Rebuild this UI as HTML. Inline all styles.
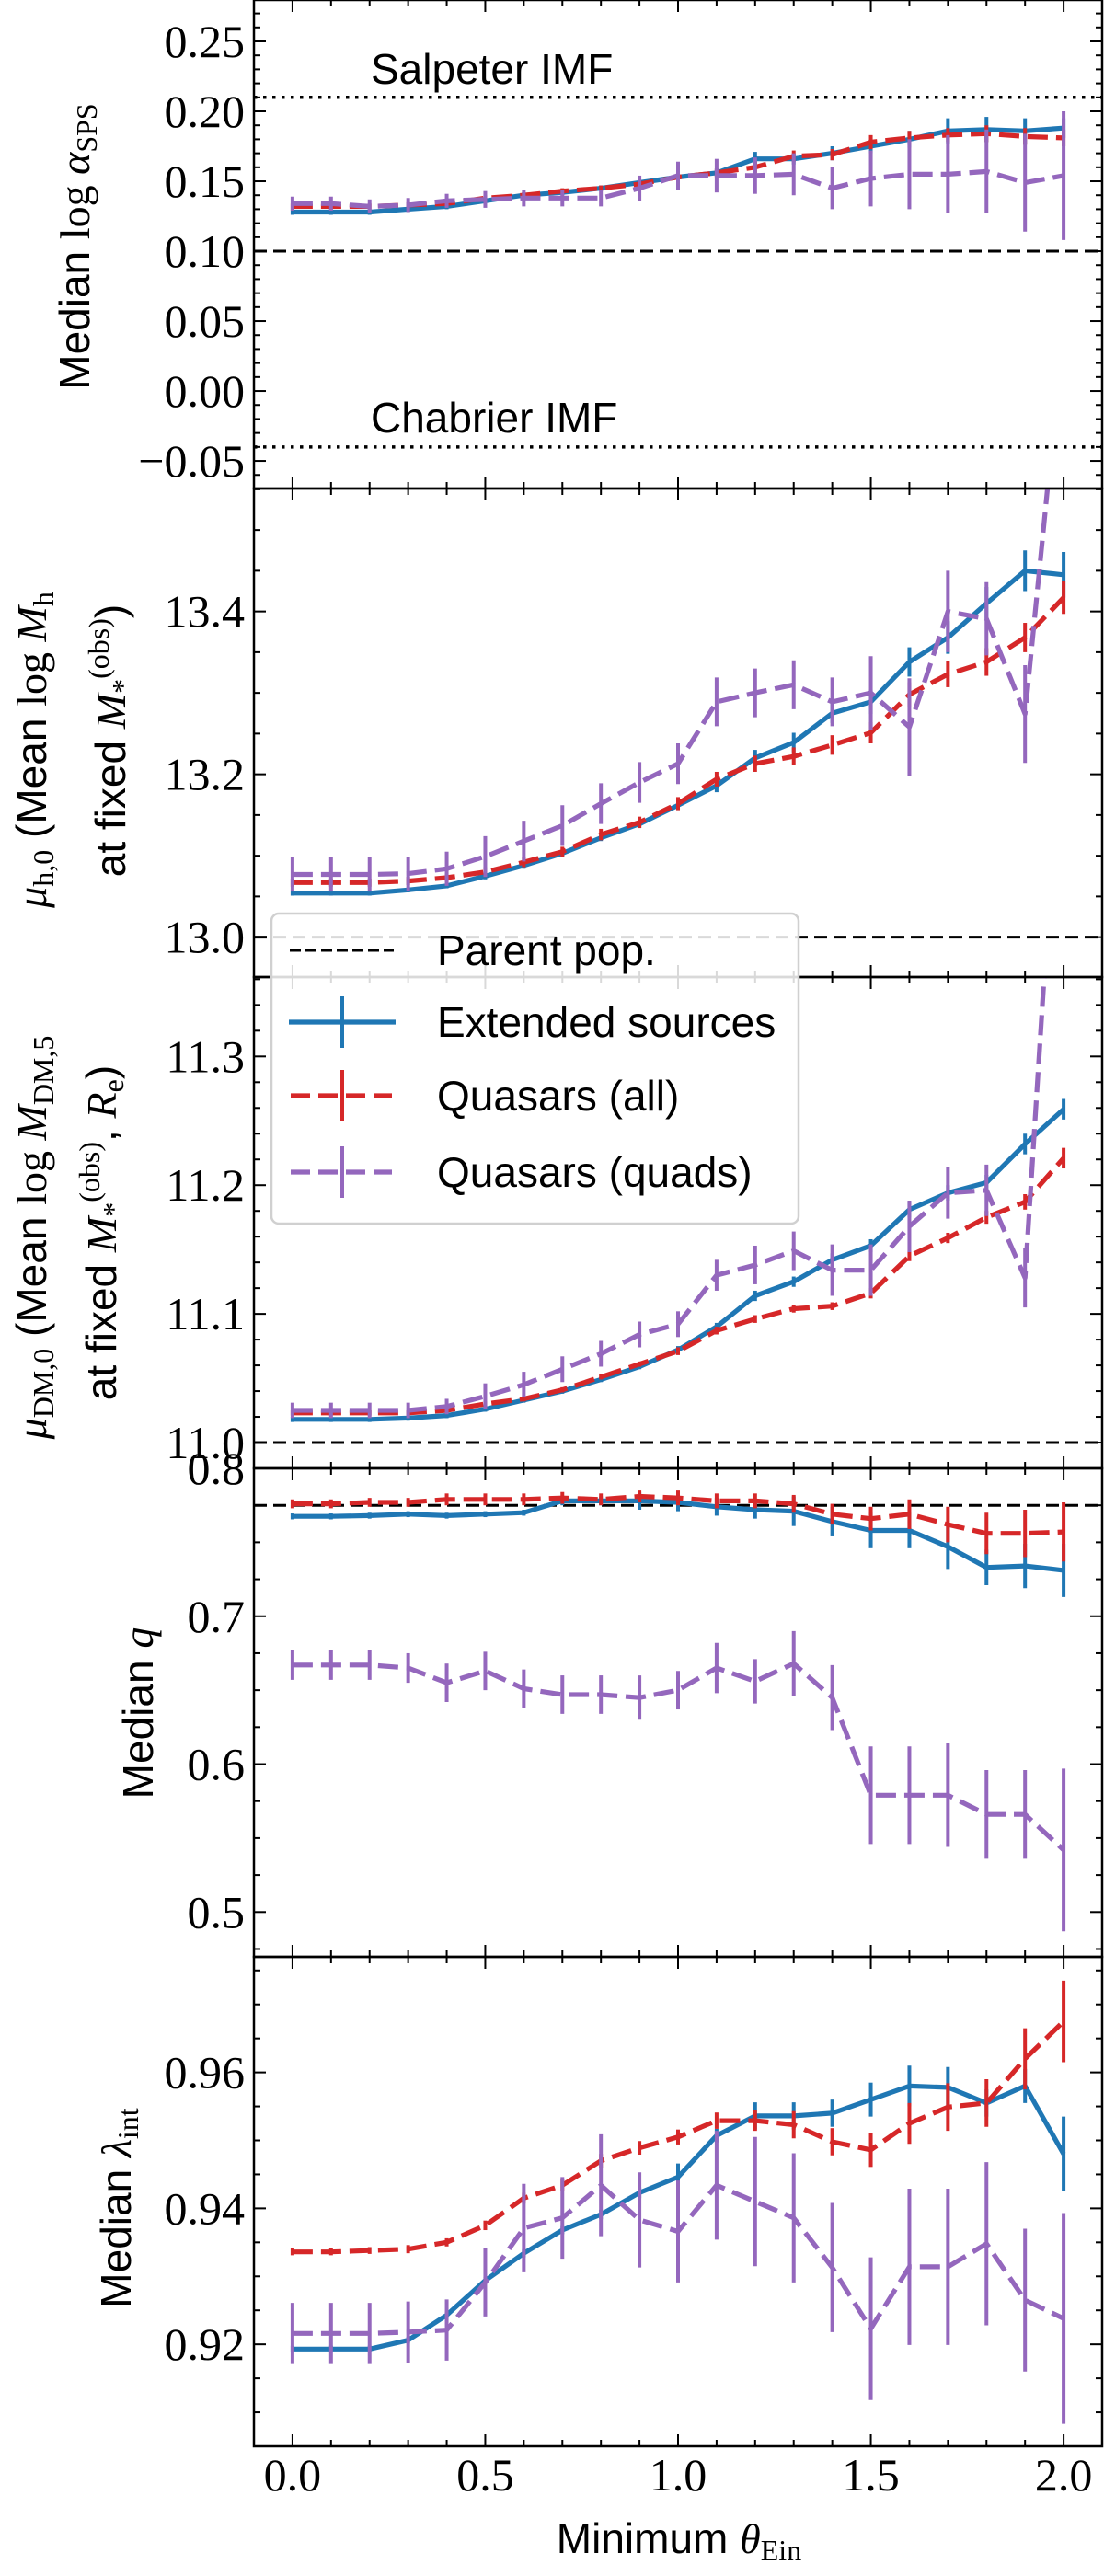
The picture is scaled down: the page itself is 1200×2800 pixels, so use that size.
<!DOCTYPE html>
<html><head><meta charset="utf-8"><style>
html,body{margin:0;padding:0;background:#fff;}
svg{display:block;}
</style></head><body>
<svg id="fig" width="1200" height="2800" viewBox="0 0 1200 2800" xmlns="http://www.w3.org/2000/svg"></svg>
<script>
// ---- data ----
const thetaMin = [0,0.1,0.2,0.3,0.4,0.5,0.6,0.7,0.8,0.9,1.0,1.1,1.2,1.3,1.4,1.5,1.6,1.7,1.8,1.9,2.0];

const alphaExt   = [0.128,0.128,0.128,0.130,0.132,0.136,0.140,0.142,0.145,0.149,0.153,0.156,0.166,0.166,0.170,0.175,0.180,0.186,0.187,0.186,0.188];
const alphaExtE  = [0.002,0.002,0.002,0.002,0.002,0.002,0.002,0.002,0.002,0.002,0.003,0.003,0.005,0.004,0.005,0.005,0.006,0.009,0.009,0.009,0.007];
const alphaAll   = [0.132,0.132,0.132,0.133,0.134,0.138,0.140,0.143,0.145,0.148,0.153,0.156,0.160,0.168,0.169,0.178,0.181,0.183,0.184,0.182,0.181];
const alphaAllE  = [0.002,0.002,0.002,0.002,0.002,0.002,0.002,0.002,0.002,0.003,0.003,0.003,0.004,0.004,0.004,0.005,0.005,0.005,0.006,0.006,0.006];
const alphaQuad  = [0.134,0.134,0.132,0.133,0.136,0.137,0.138,0.138,0.138,0.145,0.154,0.154,0.154,0.155,0.145,0.152,0.155,0.155,0.157,0.149,0.154];
const alphaQuadE = [0.005,0.005,0.005,0.005,0.005,0.006,0.006,0.006,0.006,0.009,0.010,0.012,0.013,0.015,0.015,0.020,0.025,0.028,0.030,0.035,0.046];

const mhExt   = [13.054,13.054,13.054,13.058,13.063,13.075,13.088,13.103,13.122,13.139,13.162,13.186,13.220,13.239,13.275,13.289,13.338,13.368,13.410,13.450,13.445];
const mhExtE  = [0.003,0.003,0.003,0.003,0.003,0.004,0.004,0.004,0.004,0.005,0.006,0.008,0.010,0.012,0.012,0.015,0.018,0.020,0.020,0.025,0.028];
const mhAll   = [13.067,13.067,13.067,13.069,13.073,13.080,13.092,13.105,13.126,13.141,13.164,13.194,13.213,13.222,13.236,13.251,13.298,13.323,13.338,13.368,13.417];
const mhAllE  = [0.005,0.005,0.005,0.005,0.005,0.006,0.006,0.006,0.007,0.007,0.008,0.009,0.010,0.011,0.012,0.013,0.015,0.016,0.017,0.018,0.020];
const mhQuad  = [13.077,13.077,13.077,13.078,13.084,13.099,13.118,13.137,13.164,13.190,13.213,13.289,13.300,13.310,13.289,13.300,13.258,13.400,13.391,13.274,13.75];
const mhQuadE = [0.021,0.021,0.021,0.021,0.021,0.025,0.025,0.025,0.025,0.025,0.025,0.030,0.030,0.030,0.030,0.045,0.060,0.050,0.045,0.060,0.060];

const mdmExt   = [11.018,11.018,11.018,11.019,11.021,11.026,11.033,11.040,11.049,11.059,11.072,11.090,11.114,11.125,11.142,11.153,11.181,11.194,11.202,11.232,11.259];
const mdmExtE  = [0.002,0.002,0.002,0.002,0.002,0.002,0.002,0.002,0.002,0.002,0.003,0.003,0.004,0.004,0.005,0.005,0.006,0.006,0.006,0.008,0.008];
const mdmAll   = [11.023,11.023,11.023,11.023,11.025,11.030,11.034,11.041,11.051,11.061,11.071,11.087,11.096,11.104,11.106,11.116,11.145,11.159,11.175,11.187,11.221];
const mdmAllE  = [0.002,0.002,0.002,0.002,0.002,0.002,0.002,0.002,0.002,0.002,0.003,0.003,0.003,0.003,0.003,0.004,0.004,0.004,0.005,0.006,0.008];
const mdmQuad  = [11.025,11.025,11.025,11.025,11.028,11.036,11.045,11.057,11.069,11.084,11.092,11.130,11.138,11.149,11.134,11.134,11.168,11.194,11.196,11.128,11.6];
const mdmQuadE = [0.006,0.006,0.006,0.006,0.006,0.010,0.010,0.010,0.010,0.010,0.010,0.012,0.015,0.015,0.020,0.020,0.020,0.020,0.020,0.023,0.030];

const qExt   = [0.7675,0.7675,0.768,0.769,0.768,0.769,0.770,0.778,0.778,0.778,0.777,0.774,0.772,0.771,0.764,0.758,0.758,0.747,0.733,0.734,0.731];
const qExtE  = [0.002,0.002,0.002,0.002,0.002,0.002,0.002,0.003,0.003,0.006,0.006,0.006,0.006,0.010,0.010,0.012,0.012,0.015,0.012,0.015,0.018];
const qAll   = [0.776,0.776,0.777,0.777,0.779,0.779,0.779,0.780,0.779,0.781,0.780,0.778,0.778,0.776,0.769,0.766,0.769,0.762,0.756,0.756,0.757];
const qAllE  = [0.003,0.003,0.003,0.003,0.004,0.004,0.004,0.004,0.004,0.004,0.005,0.005,0.005,0.006,0.007,0.008,0.010,0.012,0.014,0.016,0.020];
const qQuad  = [0.667,0.667,0.667,0.665,0.655,0.663,0.651,0.647,0.647,0.645,0.650,0.665,0.656,0.668,0.645,0.579,0.579,0.579,0.566,0.566,0.542];
const qQuadE = [0.010,0.010,0.010,0.010,0.013,0.013,0.013,0.013,0.013,0.015,0.013,0.017,0.015,0.022,0.022,0.033,0.033,0.035,0.030,0.030,0.055];

const lamExt   = [0.9193,0.9193,0.9193,0.9206,0.9243,0.9294,0.9334,0.9368,0.9391,0.9423,0.9446,0.9507,0.9536,0.9536,0.9540,0.9560,0.9580,0.9578,0.9555,0.9580,0.9480];
const lamExtE  = [0.0005,0.0005,0.0005,0.0005,0.0005,0.0005,0.0006,0.0006,0.0007,0.0008,0.0020,0.0010,0.0020,0.0020,0.0020,0.0025,0.0030,0.0030,0.0020,0.0025,0.0055];
const lamAll   = [0.9336,0.9336,0.9338,0.9340,0.9350,0.9375,0.9415,0.9434,0.9470,0.9489,0.9505,0.9529,0.9529,0.9523,0.9498,0.9486,0.9525,0.9549,0.9555,0.9620,0.9675];
const lamAllE  = [0.0005,0.0005,0.0005,0.0006,0.0006,0.0007,0.0008,0.0009,0.0010,0.0010,0.0011,0.0012,0.0015,0.0020,0.0020,0.0025,0.0030,0.0035,0.0035,0.0045,0.0060];
const lamQuad  = [0.9216,0.9216,0.9216,0.9218,0.9221,0.9291,0.9371,0.9386,0.9434,0.9383,0.9366,0.9434,0.9410,0.9386,0.9313,0.9223,0.9314,0.9314,0.9348,0.9265,0.9238];
const lamQuadE = [0.0045,0.0045,0.0045,0.0045,0.0045,0.0050,0.0065,0.0060,0.0075,0.0070,0.0075,0.0080,0.0095,0.0095,0.0095,0.0105,0.0115,0.0115,0.0120,0.0105,0.0155];

const xTickLabels = ["0.0","0.5","1.0","1.5","2.0"];
const xTickValues = [0,0.5,1.0,1.5,2.0];

// ---- layout ----
const NS = "http://www.w3.org/2000/svg";
const svg = document.getElementById('fig');
const X0 = 276, X1 = 1198, XMIN = -0.1, XMAX = 2.1;
function sx(v){ return X0 + (v - XMIN) / (XMAX - XMIN) * (X1 - X0); }
const C_BLUE = "#1f77b4", C_RED = "#d62728", C_PURPLE = "#9467bd";
const SERIF = "'Liberation Serif', serif", SANS = "'Liberation Sans', sans-serif";

function el(tag, attrs, parent){
  const e = document.createElementNS(NS, tag);
  for (const k in attrs) e.setAttribute(k, attrs[k]);
  (parent || svg).appendChild(e);
  return e;
}

const panels = [
  {name:'imf', top:0, bottom:531, ymin:-0.0697, ymax:0.2796, majors:[-0.05,0,0.05,0.10,0.15,0.20,0.25], dec:2, minorStep:0.01,
   series:[[alphaExt,alphaExtE],[alphaAll,alphaAllE],[alphaQuad,alphaQuadE]], ref:0.10},
  {name:'halo-mass', top:531, bottom:1062, ymin:12.951, ymax:13.551, majors:[13.0,13.2,13.4], dec:1, minorStep:0.05,
   series:[[mhExt,mhExtE],[mhAll,mhAllE],[mhQuad,mhQuadE]], ref:13.0},
  {name:'dm-mass', top:1062, bottom:1596, ymin:10.98, ymax:11.3617, majors:[11.0,11.1,11.2,11.3], dec:1, minorStep:0.02,
   series:[[mdmExt,mdmExtE],[mdmAll,mdmAllE],[mdmQuad,mdmQuadE]], ref:11.0},
  {name:'axis-ratio', top:1596, bottom:2127, ymin:0.4697, ymax:0.8, majors:[0.5,0.6,0.7,0.8], dec:1, minorStep:0.025,
   series:[[qExt,qExtE],[qAll,qAllE],[qQuad,qQuadE]], ref:0.775},
  {name:'lambda-int', top:2127, bottom:2659, ymin:0.905, ymax:0.977, majors:[0.92,0.94,0.96], dec:2, minorStep:0.005,
   series:[[lamExt,lamExtE],[lamAll,lamAllE],[lamQuad,lamQuadE]], ref:null}
];
const seriesNames = ['extended-sources','quasars-all','quasars-quads'];
const seriesColors = [C_BLUE, C_RED, C_PURPLE];
const seriesDash = [null, "22 9", "22 9"];

const defs = el('defs', {});
panels.forEach((p, pi) => {
  const sy = v => p.bottom - (v - p.ymin) / (p.ymax - p.ymin) * (p.bottom - p.top);
  p.sy = sy;
  const cp = el('clipPath', {id:'clip'+pi}, defs);
  el('rect', {x:X0, y:p.top, width:X1-X0, height:p.bottom-p.top}, cp);

  const g = el('g', {});
  
  
  const dg = el('g', {'clip-path':'url(#clip'+pi+')'}, g);

  if (p.ref !== null){
    const rl = el('line', {x1:X0, x2:X1, y1:sy(p.ref), y2:sy(p.ref), stroke:'#000', 'stroke-width':3, 'stroke-dasharray':'14 7'}, dg);
    
    
  }
  if (pi === 0){
    [0.21, -0.04].forEach((v, k) => {
      const dl = el('line', {x1:X0, x2:X1, y1:sy(v), y2:sy(v), stroke:'#000', 'stroke-width':3.5, 'stroke-dasharray':'3.5 6.5'}, dg);
      
      
    });
  }

  p.series.forEach((s, si) => {
    const vals = s[0], errs = s[1];
    const sg = el('g', {}, dg);
    
    
    thetaMin.forEach((x, i) => {
      const eb = el('line', {x1:sx(x), x2:sx(x), y1:sy(vals[i]-errs[i]), y2:sy(vals[i]+errs[i]), stroke:seriesColors[si], 'stroke-width':4}, sg);
      
      
    });
    const pts = thetaMin.map((x, i) => sx(x).toFixed(1) + ',' + sy(vals[i]).toFixed(1)).join(' ');
    const pl = el('polyline', {points:pts, fill:'none', stroke:seriesColors[si], 'stroke-width':5.2, 'stroke-linejoin':'round'}, sg);
    if (seriesDash[si]) pl.setAttribute('stroke-dasharray', seriesDash[si]);
    
    
  });

  const tg = el('g', {stroke:'#000'}, g);
  
  
  for (let k = 0; k <= 22; k++){
    const xv = -0.1 + k * 0.1;
    if (xv < -0.0001 || xv > 2.0001) continue;
    const major = Math.abs(xv * 2 - Math.round(xv * 2)) < 1e-6;
    const L = major ? 13 : 7;
    el('line', {x1:sx(xv), x2:sx(xv), y1:p.top, y2:p.top + L, 'stroke-width':2}, tg);
    el('line', {x1:sx(xv), x2:sx(xv), y1:p.bottom, y2:p.bottom - L, 'stroke-width':2}, tg);
  }
  const nMin = Math.ceil(p.ymin / p.minorStep - 1e-6), nMax = Math.floor(p.ymax / p.minorStep + 1e-6);
  for (let n = nMin; n <= nMax; n++){
    const v = n * p.minorStep;
    const isMajor = p.majors.some(m => Math.abs(m - v) < 1e-6);
    const L = isMajor ? 13 : 7;
    el('line', {x1:X0, x2:X0 + L, y1:sy(v), y2:sy(v), 'stroke-width':2}, tg);
    el('line', {x1:X1, x2:X1 - L, y1:sy(v), y2:sy(v), 'stroke-width':2}, tg);
  }
  p.majors.forEach(m => {
    const t = el('text', {x:266, y:sy(m) + 17, 'text-anchor':'end', 'font-family':SERIF, 'font-size':50, fill:'#000'}, g);
    t.textContent = (m < 0 ? '\u2212' : '') + Math.abs(m).toFixed(p.dec);
    
    
  });

  const fr = el('rect', {x:X0, y:p.top, width:X1-X0, height:p.bottom-p.top, fill:'none', stroke:'#000', 'stroke-width':2.5}, g);
  
  
});

xTickValues.forEach((v, i) => {
  const t = el('text', {x:sx(v), y:2707, 'text-anchor':'middle', 'font-family':SERIF, 'font-size':50, fill:'#000'});
  t.textContent = xTickLabels[i];
  
  
});
</script>

<svg width="1200" height="2800" viewBox="0 0 1200 2800" xmlns="http://www.w3.org/2000/svg" style="position:absolute;left:0;top:0;">
  <text x="403" y="91" font-family="'Liberation Sans', sans-serif" font-size="46">Salpeter IMF</text>
  <text x="403" y="470" font-family="'Liberation Sans', sans-serif" font-size="46">Chabrier IMF</text>

  <text transform="translate(97,268) rotate(-90)" text-anchor="middle" font-size="46"><tspan font-family="'Liberation Sans', sans-serif">Median </tspan><tspan font-family="'Liberation Serif', serif">log </tspan><tspan font-family="'Liberation Serif', serif" font-style="italic">α</tspan><tspan font-family="'Liberation Serif', serif" font-size="32" dy="8">SPS</tspan></text>

  <text transform="translate(50,815) rotate(-90)" text-anchor="middle" font-size="46"><tspan font-family="'Liberation Serif', serif" font-style="italic">μ</tspan><tspan font-family="'Liberation Serif', serif" font-size="32" dy="8">h,0</tspan><tspan font-family="'Liberation Sans', sans-serif" dy="-8"> (Mean </tspan><tspan font-family="'Liberation Serif', serif">log </tspan><tspan font-family="'Liberation Serif', serif" font-style="italic">M</tspan><tspan font-family="'Liberation Serif', serif" font-size="32" dy="8">h</tspan></text>
  <text transform="translate(136,805) rotate(-90)" text-anchor="middle" font-size="46"><tspan font-family="'Liberation Sans', sans-serif">at fixed </tspan><tspan font-family="'Liberation Serif', serif" font-style="italic">M</tspan><tspan font-family="'Liberation Serif', serif" font-size="32" dy="8">*</tspan><tspan font-family="'Liberation Serif', serif" font-size="32" dy="-26">(obs)</tspan><tspan font-family="'Liberation Sans', sans-serif" dy="18">)</tspan></text>

  <text transform="translate(50,1345) rotate(-90)" text-anchor="middle" font-size="46"><tspan font-family="'Liberation Serif', serif" font-style="italic">μ</tspan><tspan font-family="'Liberation Serif', serif" font-size="32" dy="8">DM,0</tspan><tspan font-family="'Liberation Sans', sans-serif" dy="-8"> (Mean </tspan><tspan font-family="'Liberation Serif', serif">log </tspan><tspan font-family="'Liberation Serif', serif" font-style="italic">M</tspan><tspan font-family="'Liberation Serif', serif" font-size="32" dy="8">DM,5</tspan></text>
  <text transform="translate(126,1340) rotate(-90)" text-anchor="middle" font-size="46"><tspan font-family="'Liberation Sans', sans-serif">at fixed </tspan><tspan font-family="'Liberation Serif', serif" font-style="italic">M</tspan><tspan font-family="'Liberation Serif', serif" font-size="32" dy="8">*</tspan><tspan font-family="'Liberation Serif', serif" font-size="32" dy="-26">(obs)</tspan><tspan font-family="'Liberation Sans', sans-serif" dy="18">, </tspan><tspan font-family="'Liberation Serif', serif" font-style="italic">R</tspan><tspan font-family="'Liberation Serif', serif" font-size="32" dy="8">e</tspan><tspan font-family="'Liberation Sans', sans-serif" dy="-8">)</tspan></text>

  <text transform="translate(166,1862) rotate(-90)" text-anchor="middle" font-size="46"><tspan font-family="'Liberation Sans', sans-serif">Median </tspan><tspan font-family="'Liberation Serif', serif" font-style="italic">q</tspan></text>

  <text transform="translate(142,2400) rotate(-90)" text-anchor="middle" font-size="46"><tspan font-family="'Liberation Sans', sans-serif">Median </tspan><tspan font-family="'Liberation Serif', serif" font-style="italic">λ</tspan><tspan font-family="'Liberation Serif', serif" font-size="32" dy="8">int</tspan></text>

  <text x="738" y="2775" text-anchor="middle" font-size="46"><tspan font-family="'Liberation Sans', sans-serif">Minimum </tspan><tspan font-family="'Liberation Serif', serif" font-style="italic">θ</tspan><tspan font-family="'Liberation Serif', serif" font-size="32" dy="8">Ein</tspan></text>

  <g>
    <rect x="295" y="993" width="573" height="337" rx="8" fill="#fff" fill-opacity="0.85" stroke="#d0d0d0" stroke-width="2.5"/>
    <g>
      <line x1="315" x2="428" y1="1033" y2="1033" stroke="#000" stroke-width="3" stroke-dasharray="12 5"/>
      <text x="475" y="1049" font-family="'Liberation Sans', sans-serif" font-size="46">Parent pop.</text>
    </g>
    <g>
      <line x1="314" x2="430" y1="1111" y2="1111" stroke="#1f77b4" stroke-width="5.2"/>
      <line x1="372" x2="372" y1="1083" y2="1139" stroke="#1f77b4" stroke-width="4"/>
      <text x="475" y="1127" font-family="'Liberation Sans', sans-serif" font-size="46">Extended sources</text>
    </g>
    <g>
      <line x1="316" x2="426" y1="1191" y2="1191" stroke="#d62728" stroke-width="5.2" stroke-dasharray="21 9"/>
      <line x1="372" x2="372" y1="1163" y2="1219" stroke="#d62728" stroke-width="4"/>
      <text x="475" y="1207" font-family="'Liberation Sans', sans-serif" font-size="46">Quasars (all)</text>
    </g>
    <g>
      <line x1="316" x2="426" y1="1274" y2="1274" stroke="#9467bd" stroke-width="5.2" stroke-dasharray="21 9"/>
      <line x1="372" x2="372" y1="1246" y2="1302" stroke="#9467bd" stroke-width="4"/>
      <text x="475" y="1290" font-family="'Liberation Sans', sans-serif" font-size="46">Quasars (quads)</text>
    </g>
  </g>
</svg>
</body></html>
